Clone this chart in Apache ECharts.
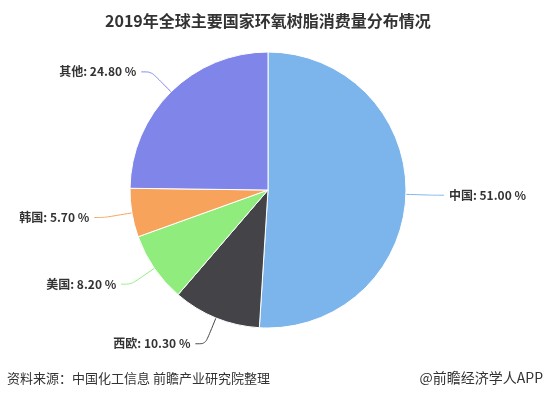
<!DOCTYPE html>
<html>
<head>
<meta charset="utf-8">
<script src="https://cdn.jsdelivr.net/npm/echarts@6/dist/echarts.min.js"></script>
<style>
  html, body { margin: 0; padding: 0; background: #fff; }
  #chart { width: 547px; height: 399px; }
</style>
</head>
<body>
<div id="chart"></div>
<script>
// 国家 / 消费量占比(%)
const countries = ["中国", "西欧", "美国", "韩国", "其他"];
const shares = [51.0, 10.3, 8.2, 5.7, 24.8];
const colors = ["#7cb5ec", "#434348", "#90ed7d", "#f7a35c", "#8085e9"];

const font = '"Noto Sans CJK SC", "Noto Sans", sans-serif';

let myChart = echarts.init(document.getElementById("chart"));
myChart.setOption({
  animation: false,
  color: colors,
  title: {
    text: "2019年全球主要国家环氧树脂消费量分布情况",
    left: 100,
    top: 8,
    textStyle: { fontSize: 16, fontWeight: "bold", color: "#333", fontFamily: font },
  },
  graphic: [
    {
      type: "text",
      left: 7,
      top: 372,
      style: { text: "资料来源：中国化工信息 前瞻产业研究院整理", font: "13px " + font, fill: "#333" },
    },
    {
      type: "text",
      right: 4,
      top: 371,
      style: { text: "@前瞻经济学人APP", font: "14px " + font, fill: "#333" },
    },
  ],
  series: [
    {
      type: "pie",
      center: [268, 190],
      radius: 138,
      startAngle: 90,
      clockwise: true,
      itemStyle: { borderColor: "#fff", borderWidth: 1 },
      label: {
        formatter: (p) => p.name + ": " + p.value.toFixed(2) + " %",
        color: "#333",
        fontSize: 12,
        fontWeight: "bold",
        fontFamily: font,
      },
      labelLine: { length: 28, length2: 10, smooth: 0.3, lineStyle: { width: 1 } },
      emphasis: { disabled: true },
      data: countries.map((c, i) => ({ name: c, value: shares[i] })),
    },
  ],
});

window.addEventListener("resize", () => {
  myChart.resize();
});
</script>
</body>
</html>
